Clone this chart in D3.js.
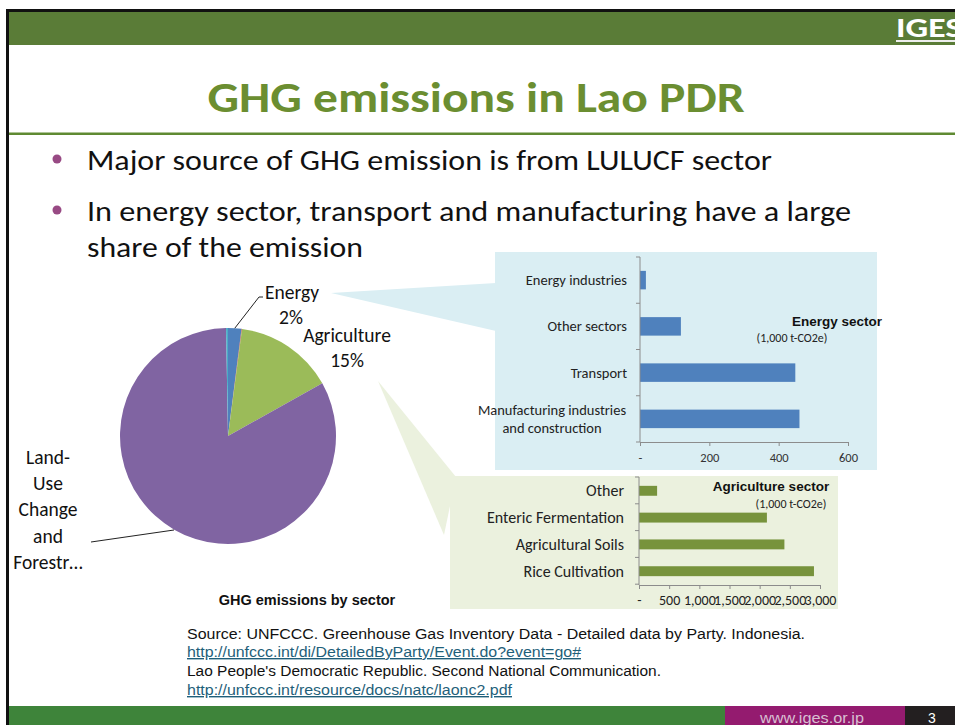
<!DOCTYPE html>
<html><head><meta charset="utf-8">
<script src="https://cdn.jsdelivr.net/npm/d3@7"></script>
<style>body{margin:0;background:#fff} svg{display:block}</style>
</head><body>
<svg id="c" width="955" height="725"></svg>
<script>
// ---------- data ----------
const pieSectors = ["Energy", "Industrial Processes", "Agriculture", "Land-Use Change and Forestry", "Waste"];
const pieValues = [1043, 40, 7730, 43190, 150];
const pieColors = ["#4f81bd", "#c0504d", "#9bbb59", "#8064a2", "#4bacc6"];

const energyCats = ["Energy industries", "Other sectors", "Transport", "Manufacturing industries\nand construction"];
const energyVals = [17, 118, 448, 460];
const energyTicks = [0, 200, 400, 600];

const agriCats = ["Other", "Enteric Fermentation", "Agricultural Soils", "Rice Cultivation"];
const agriVals = [300, 2120, 2410, 2900];
const agriTicks = [0, 500, 1000, 1500, 2000, 2500, 3000];

const bullets = ["Major source of GHG emission is from LULUCF sector",
  "In energy sector, transport and manufacturing have a large",
  "share of the emission"];
const sources = [
  {t: "Source: UNFCCC. Greenhouse Gas Inventory Data - Detailed data by Party. Indonesia.", link: false},
  {t: "http://unfccc.int/di/DetailedByParty/Event.do?event=go#", link: true},
  {t: "Lao People's Democratic Republic. Second National Communication.", link: false},
  {t: "http://unfccc.int/resource/docs/natc/laonc2.pdf", link: true}];

// ---------- drawing ----------
const svg = d3.select("#c");
const body = "Carlito, Calibri, Lato, sans-serif";
const arial = "'Liberation Sans', Arial, sans-serif";
const fmt = d => d === 0 ? "-" : d3.format(",")(d);

// frame & header
svg.append("rect").attr("x", 6).attr("y", 9).attr("width", 949).attr("height", 3).attr("fill", "#111");
svg.append("rect").attr("x", 6).attr("y", 9).attr("width", 3).attr("height", 716).attr("fill", "#111");
svg.append("rect").attr("x", 9).attr("y", 12).attr("width", 946).attr("height", 33).attr("fill", "#5a7c37");
svg.append("text").attr("x", 896).attr("y", 37).attr("font-family", body).attr("font-weight", 700)
  .attr("font-size", 29).attr("fill", "#fff").attr("textLength", 66).attr("lengthAdjust", "spacingAndGlyphs").text("IGES");
svg.append("line").attr("x1", 896).attr("x2", 955).attr("y1", 41).attr("y2", 41).attr("stroke", "#eee").attr("stroke-width", 2);

// title
svg.append("text").attr("x", 476).attr("y", 112).attr("text-anchor", "middle")
  .attr("font-family", body).attr("font-weight", 700).attr("font-size", 43).attr("fill", "#6b8e31")
  .attr("textLength", 537).attr("lengthAdjust", "spacingAndGlyphs").text("GHG emissions in Lao PDR");
svg.append("rect").attr("x", 9).attr("y", 132.5).attr("width", 946).attr("height", 2.5).attr("fill", "#5f8a32");

// bullets
const bY = [170, 221, 257], bW = [685, 764, 276];
bullets.forEach((t, i) => {
  if (i < 2) svg.append("circle").attr("cx", 57).attr("cy", bY[i] - 11).attr("r", 4.5).attr("fill", "#984a84");
  svg.append("text").attr("x", 87).attr("y", bY[i]).attr("font-family", body).attr("font-size", 28)
    .attr("fill", "#111").attr("textLength", bW[i]).attr("lengthAdjust", "spacingAndGlyphs").text(t);
});

// callout wedges
svg.append("path").attr("d", "M331,293 L496,283 L496,331 Z").attr("fill", "#daeef3");
svg.append("path").attr("d", "M378,381 L456,477 L444,535 Z").attr("fill", "#ebf1de");

// ---------- pie ----------
const cx = 228, cy = 436, R = 108;
const pie = d3.pie().sort(null).value(d => d)(pieValues);
const arc = d3.arc().innerRadius(0).outerRadius(R);
const pg = svg.append("g").attr("transform", `translate(${cx},${cy})`);
pg.selectAll("path").data(pie).join("path").attr("d", arc).attr("fill", (d, i) => pieColors[i]);

const total = d3.sum(pieValues);
const pct = v => Math.round(v / total * 100) + "%";
const lab = svg.append("g").attr("font-family", body).attr("font-size", 19.5).attr("fill", "#111").attr("text-anchor", "middle");
lab.append("text").attr("x", 292).attr("y", 299).text(pieSectors[0]);
lab.append("text").attr("x", 291).attr("y", 324).text(pct(pieValues[0]));
lab.append("text").attr("x", 347).attr("y", 342).text(pieSectors[2]);
lab.append("text").attr("x", 347).attr("y", 367).text(pct(pieValues[2]));
["Land-", "Use", "Change", "and", "Forestr…"].forEach((t, i) =>
  lab.append("text").attr("x", 48).attr("y", 464 + i * 26.2).text(t));
// leader lines
const aE = (pie[0].startAngle + pie[0].endAngle) / 2;
svg.append("path").attr("d", `M${cx + Math.sin(aE) * R},${cy - Math.cos(aE) * R} L259,297 L263,297`)
  .attr("fill", "none").attr("stroke", "#222").attr("stroke-width", 1);
svg.append("path").attr("d", "M91,542 L174,530").attr("fill", "none").attr("stroke", "#222").attr("stroke-width", 1);
svg.append("text").attr("x", 307).attr("y", 605).attr("text-anchor", "middle").attr("font-family", arial)
  .attr("font-weight", 700).attr("font-size", 14.5).attr("fill", "#111").text("GHG emissions by sector");

// ---------- energy bar chart ----------
svg.append("rect").attr("x", 495).attr("y", 252).attr("width", 382).attr("height", 218).attr("fill", "#daeef3");
const ex = d3.scaleLinear().domain([0, 600]).range([640, 848]);
const ey = d3.scaleBand().domain(energyCats).range([257, 442]).paddingInner(0.6).paddingOuter(0.3);
const eg = svg.append("g");
eg.selectAll("rect.bar").data(energyCats).join("rect").attr("class", "bar")
  .attr("x", ex(0)).attr("y", d => ey(d)).attr("height", ey.bandwidth())
  .attr("width", (d, i) => ex(energyVals[i]) - ex(0)).attr("fill", "#4f81bd");
const exAxis = eg.append("g").attr("transform", "translate(0,442)")
  .call(d3.axisBottom(ex).tickValues(energyTicks).tickFormat(fmt).tickSize(4).tickSizeOuter(0));
exAxis.select(".domain").attr("stroke", "#8c8c8c");
exAxis.selectAll(".tick line").attr("stroke", "#8c8c8c");
exAxis.selectAll("text").attr("font-family", body).attr("font-size", 12.5).attr("fill", "#333").attr("dy", "1em");
const eStep = ey.step();
eg.append("line").attr("x1", ex(0)).attr("x2", ex(0)).attr("y1", ey.range()[0]).attr("y2", ey.range()[1]).attr("stroke", "#8c8c8c");
d3.range(energyCats.length + 1).forEach(i => {
  const yy = ey.range()[0] + i * eStep;
  eg.append("line").attr("x1", ex(0) - 4).attr("x2", ex(0)).attr("y1", yy).attr("y2", yy).attr("stroke", "#8c8c8c");
});
energyCats.forEach(c => {
  const lines = c.split("\n");
  const yc = ey(c) + ey.bandwidth() / 2;
  const t = eg.append("text").attr("font-family", body).attr("font-size", 14.5).attr("fill", "#222");
  if (lines.length === 1) {
    t.attr("x", 627).attr("y", yc).attr("dy", "0.35em").attr("text-anchor", "end").text(c);
  } else {
    t.attr("text-anchor", "middle");
    t.selectAll("tspan").data(lines).join("tspan").attr("x", 552)
      .attr("y", (d, i) => yc + (i - (lines.length - 1) / 2) * 18).attr("dy", "0.35em").text(d => d);
  }
});
eg.append("text").attr("x", 837).attr("y", 326).attr("text-anchor", "middle").attr("font-family", arial)
  .attr("font-weight", 700).attr("font-size", 13.5).attr("fill", "#111").text("Energy sector");
eg.append("text").attr("x", 792).attr("y", 342).attr("text-anchor", "middle").attr("font-family", body)
  .attr("font-size", 12).attr("fill", "#222").text("(1,000 t-CO2e)");

// ---------- agriculture bar chart ----------
svg.append("rect").attr("x", 450).attr("y", 476).attr("width", 388).attr("height", 133).attr("fill", "#ebf1de");
const ax = d3.scaleLinear().domain([0, 3000]).range([639, 820]);
const ay = d3.scaleBand().domain(agriCats).range([477, 585]).paddingInner(0.63).paddingOuter(0.33);
const ag = svg.append("g");
ag.selectAll("rect.bar").data(agriCats).join("rect").attr("class", "bar")
  .attr("x", ax(0)).attr("y", d => ay(d)).attr("height", ay.bandwidth())
  .attr("width", (d, i) => ax(agriVals[i]) - ax(0)).attr("fill", "#77933c");
const axAxis = ag.append("g").attr("transform", "translate(0,585)")
  .call(d3.axisBottom(ax).tickValues(agriTicks).tickFormat(fmt).tickSize(4).tickSizeOuter(0));
axAxis.select(".domain").attr("stroke", "#8c8c8c");
axAxis.selectAll(".tick line").attr("stroke", "#8c8c8c");
axAxis.selectAll("text").attr("font-family", body).attr("font-size", 14).attr("fill", "#222").attr("dy", "0.95em");
const aStep = ay.step();
ag.append("line").attr("x1", ax(0)).attr("x2", ax(0)).attr("y1", ay.range()[0]).attr("y2", ay.range()[1]).attr("stroke", "#8c8c8c");
d3.range(agriCats.length + 1).forEach(i => {
  const yy = ay.range()[0] + i * aStep;
  ag.append("line").attr("x1", ax(0) - 4).attr("x2", ax(0)).attr("y1", yy).attr("y2", yy).attr("stroke", "#8c8c8c");
});
ag.selectAll("text.cat").data(agriCats).join("text").attr("class", "cat")
  .attr("x", 624).attr("y", d => ay(d) + ay.bandwidth() / 2).attr("dy", "0.35em").attr("text-anchor", "end")
  .attr("font-family", body).attr("font-size", 16).attr("fill", "#222").text(d => d);
ag.append("text").attr("x", 771).attr("y", 491).attr("text-anchor", "middle").attr("font-family", arial)
  .attr("font-weight", 700).attr("font-size", 13.5).attr("fill", "#111").text("Agriculture sector");
ag.append("text").attr("x", 791).attr("y", 508).attr("text-anchor", "middle").attr("font-family", body)
  .attr("font-size", 12).attr("fill", "#222").text("(1,000 t-CO2e)");

// ---------- sources ----------
const sY = [639, 657, 676, 695], sW = [618, 394, 474, 325];
sources.forEach((s, i) => {
  svg.append("text").attr("x", 187).attr("y", sY[i]).attr("font-family", "'Liberation Sans Narrow', 'Arial Narrow', " + arial)
    .attr("font-size", 14).attr("fill", s.link ? "#1f5f7a" : "#111")
    .attr("text-decoration", s.link ? "underline" : null)
    .attr("textLength", sW[i]).attr("lengthAdjust", "spacingAndGlyphs").text(s.t);
});

// ---------- footer ----------
svg.append("rect").attr("x", 9).attr("y", 706).attr("width", 716).attr("height", 19).attr("fill", "#3e843a");
svg.append("rect").attr("x", 725).attr("y", 706).attr("width", 180).attr("height", 19).attr("fill", "#941b6f");
svg.append("rect").attr("x", 905).attr("y", 706).attr("width", 50).attr("height", 19).attr("fill", "#231f20");
svg.append("text").attr("x", 812).attr("y", 723).attr("text-anchor", "middle").attr("font-family", arial)
  .attr("font-size", 14.5).attr("fill", "#d8bfd2").attr("textLength", 104).attr("lengthAdjust", "spacingAndGlyphs").text("www.iges.or.jp");
svg.append("text").attr("x", 932).attr("y", 723).attr("text-anchor", "middle").attr("font-family", arial)
  .attr("font-size", 14).attr("fill", "#fff").text("3");
</script>
</body></html>
